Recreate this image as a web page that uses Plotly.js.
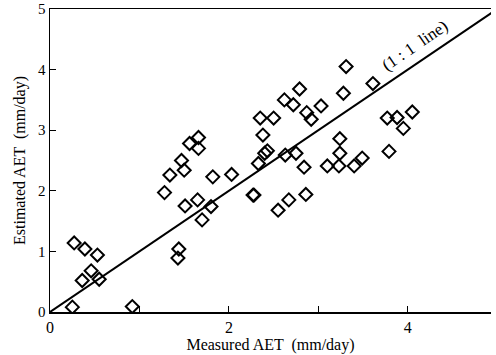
<!DOCTYPE html>
<html>
<head>
<meta charset="utf-8">
<script src="https://cdn.plot.ly/plotly-3.0.1.min.js"></script>
<style>html,body{margin:0;padding:0;background:#fff}#chart{width:496px;height:355px}</style>
</head>
<body>
<div id="chart"></div>
<script>
// Measured AET (mm/day)
const measured = [
  0.27, 0.39, 0.53, 0.46, 0.36, 0.55, 0.25, 0.92,
  1.28, 1.34, 1.44, 1.43, 1.51, 1.65, 1.70, 1.80, 1.82, 2.03, 1.56, 1.66, 1.66, 1.47, 1.50,
  2.27, 2.33, 2.40, 2.38, 2.35, 2.50, 2.43, 2.62, 2.72, 2.79, 2.87, 2.92, 3.03, 2.63, 2.75, 2.84,
  2.28, 2.67, 2.86, 2.55,
  3.31, 3.28, 3.24, 3.24, 3.10, 3.23, 3.40, 3.49, 3.61,
  3.77, 3.88, 4.05, 3.95, 3.79
];
// Estimated AET (mm/day)
const estimated = [
  1.14, 1.04, 0.94, 0.68, 0.52, 0.54, 0.08, 0.09,
  1.97, 2.26, 1.04, 0.89, 1.75, 1.85, 1.52, 1.74, 2.23, 2.27, 2.78, 2.88, 2.70, 2.50, 2.34,
  1.93, 2.45, 2.62, 2.92, 3.20, 3.20, 2.66, 3.50, 3.42, 3.68, 3.29, 3.18, 3.40, 2.59, 2.62, 2.39,
  1.93, 1.85, 1.94, 1.68,
  4.05, 3.61, 2.86, 2.62, 2.41, 2.41, 2.41, 2.54, 3.77,
  3.20, 3.21, 3.30, 3.03, 2.65
];
const lineX = [0, 5];
const lineY = [0, 5];
const xTickVals = [0, 1, 2, 3, 4];
const xTickText = ["0", "", "2", "", "4"];
const yTickVals = [0, 1, 2, 3, 4, 5];
const yTickText = ["0", "1", "2", "3", "4", "5"];
const lineLabel = "(1\u00a0:\u00a01\u00a0\u00a0line)";

const font = "Liberation Serif, Times New Roman, serif";

const traces = [
  {
    x: lineX, y: lineY, mode: "lines", type: "scatter",
    line: {color: "#000", width: 2}, hoverinfo: "skip"
  },
  {
    x: measured, y: estimated, mode: "markers", type: "scatter",
    marker: {symbol: "diamond-open", size: 10, color: "#000", line: {width: 2, color: "#000"}}
  }
];

const layout = {
  width: 496, height: 355,
  margin: {l: 50, r: 5, t: 9, b: 43},
  paper_bgcolor: "#fff", plot_bgcolor: "#fff",
  showlegend: false,
  font: {family: font, color: "#000", size: 15},
  xaxis: {
    range: [0, 4.93], showgrid: false, zeroline: false,
    showline: true, linecolor: "#000", linewidth: 1.5, mirror: true,
    ticks: "inside", ticklen: 6, tickwidth: 1, tickcolor: "#000",
    tickvals: xTickVals, ticktext: xTickText,
    tickfont: {family: font, size: 16},
    title: {text: "Measured AET  (mm/day)", font: {family: font, size: 16}, standoff: 2}
  },
  yaxis: {
    range: [0, 5], showgrid: false, zeroline: false,
    showline: true, linecolor: "#000", linewidth: 1.5,
    ticks: "inside", ticklen: 6, tickwidth: 1, tickcolor: "#000",
    tickvals: yTickVals, ticktext: yTickText,
    tickfont: {family: font, size: 15},
    title: {text: "Estimated AET  (mm/day)", font: {family: font, size: 16}, standoff: 8}
  },
  annotations: [{
    x: 4.08, y: 4.40, xref: "x", yref: "y", text: lineLabel, showarrow: false,
    textangle: -34.6, font: {family: font, size: 17, color: "#000"}
  }]
};

Plotly.newPlot("chart", traces, layout, {staticPlot: true, displayModeBar: false});
</script>
</body>
</html>
